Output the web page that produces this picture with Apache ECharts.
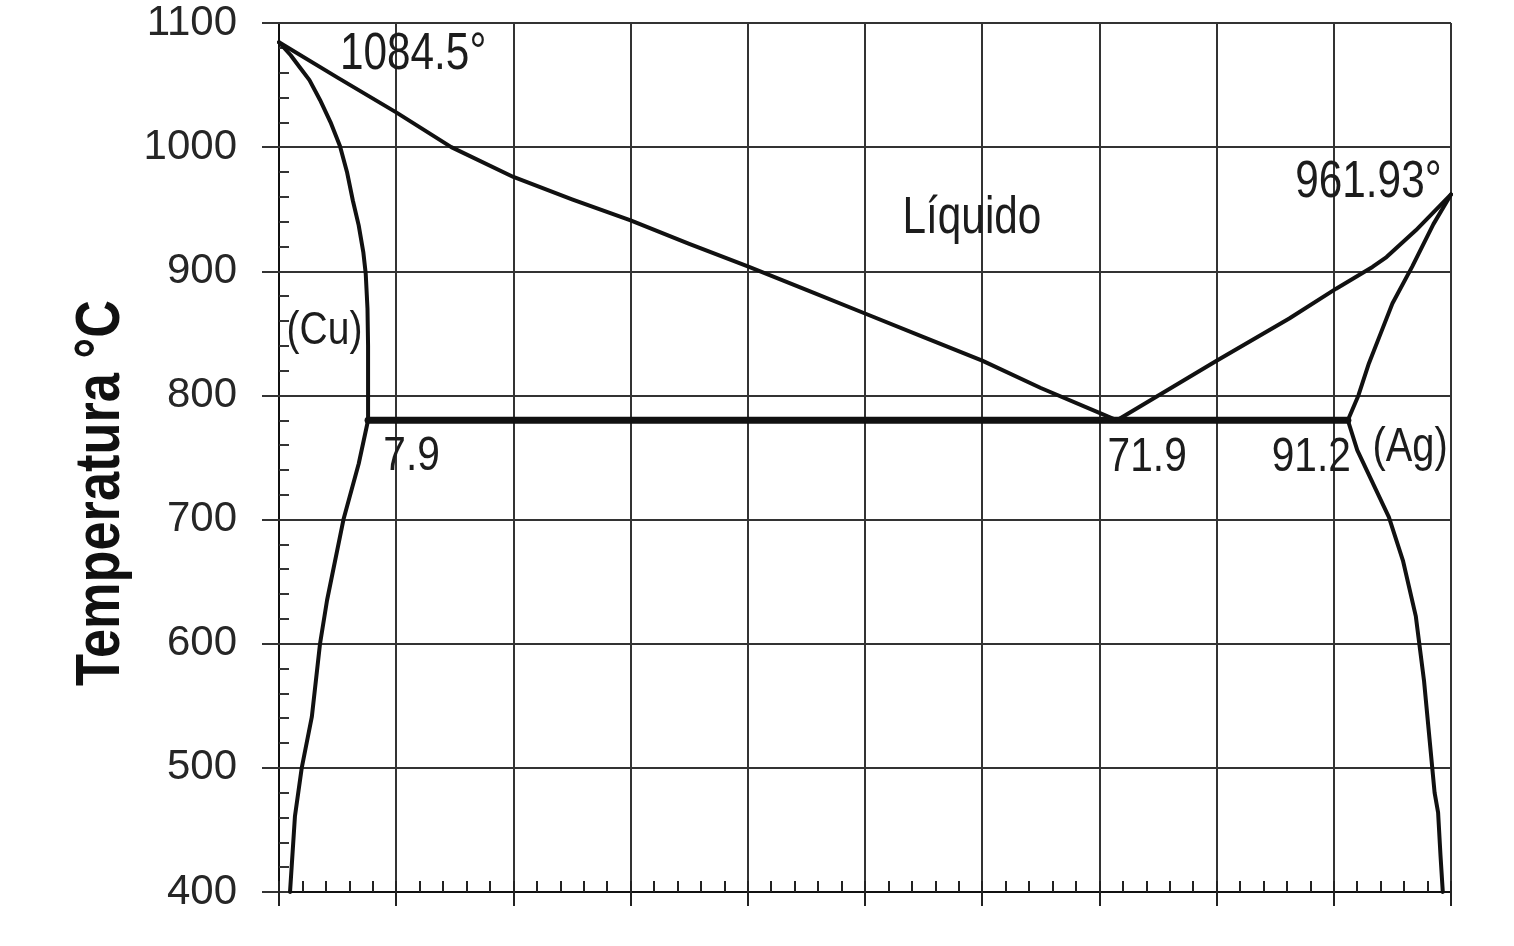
<!DOCTYPE html>
<html>
<head>
<meta charset="utf-8">
<script src="https://cdn.jsdelivr.net/npm/echarts@6/dist/echarts.min.js"></script>
<style>
html,body{margin:0;padding:0;background:#fff;}
#chart{width:1514px;height:946px;}
</style>
</head>
<body>
<div id="chart"></div>
<script>
// ---- data (x = composition, y = temperature °C) ----
var liquidusCu = [[0,1084.5],[5,1056],[10,1028],[14.7,1000],[20,976],[25,958],[30,941],[35,922],[40,904],[45,885],[50,866],[55,847],[60,828],[65,806],[70,786],[71.5,780]];
var solidusCu  = [[0,1084.5],[1.0,1074],[1.8,1064],[2.6,1054],[3.5,1038],[4.4,1020],[5.2,1001],[5.8,980],[6.3,957],[6.8,937],[7.2,915],[7.4,898],[7.55,870],[7.6,840],[7.6,780]];
var solvusCu   = [[7.6,780],[6.8,745],[5.5,700],[4.1,635],[3.5,600],[2.8,541],[1.94,500],[1.36,461],[0.94,400]];
var eutectic   = [[7.6,780],[91.2,780]];
var liquidusAg = [[71.5,780],[80,828],[86.2,862],[90.2,886],[93.3,903.5],[94.5,911.5],[97,933],[100,961.93]];
var solidusAg  = [[100,961.93],[98.5,938],[96.7,904],[95.0,874],[94.0,850],[93.0,826],[92.1,800],[91.2,780]];
var solvusAg   = [[91.2,780],[92.0,756],[93.4,728],[94.7,702],[95.9,667],[97.0,622],[97.7,570],[98.2,520],[98.6,480],[98.9,464],[99.1,430],[99.3,400]];

var yTicks = [400,500,600,700,800,900,1000,1100];

// annotations: text and anchor in data units
var annoText = ['1084.5°','Líquido','961.93°','(Cu)','7.9','71.9','91.2','(Ag)'];
var annoX    = [5.2, 53.2, 99.2, 0.65, 8.9, 70.7, 84.7, 93.3];
var annoY    = [1074, 942, 971, 852, 751, 750, 750, 758];

var yTitle = 'Temperatura °C';

var sans = "'Liberation Sans',Arial,Helvetica,sans-serif";
var chart = echarts.init(document.getElementById('chart'), null, {renderer:'canvas'});

function lineSeries(data, width){
  return {
    type:'line', data:data, showSymbol:false, symbol:'none', smooth:false,
    xAxisIndex:0, yAxisIndex:0, animation:false, silent:true,
    lineStyle:{color:'#111', width:width, join:'round', cap:'round'}, z:5
  };
}

var option = {
  backgroundColor:'#fff',
  animation:false,
  grid:{left:279, right:63, top:23, bottom:54, containLabel:false},
  xAxis:[
    {type:'value', min:0, max:100, interval:10, position:'bottom',
     axisLine:{show:true, onZero:false, lineStyle:{color:'#111', width:2}},
     axisTick:{show:true, inside:false, length:14, lineStyle:{color:'#222', width:2}},
     axisLabel:{show:false},
     splitLine:{show:true, lineStyle:{color:'#333', width:2}}},
    {type:'value', min:0, max:100, interval:2, position:'bottom', offset:0,
     axisLine:{show:false, onZero:false},
     axisTick:{show:true, inside:true, length:11, lineStyle:{color:'#222', width:2}},
     axisLabel:{show:false},
     splitLine:{show:false}}
  ],
  yAxis:[
    {type:'value', min:400, max:1100, interval:100, position:'left',
     axisLine:{show:true, onZero:false, lineStyle:{color:'#111', width:2}},
     axisTick:{show:true, inside:false, length:17, lineStyle:{color:'#333', width:2}},
     axisLabel:{show:true, margin:42, color:'#262626', fontSize:42, fontFamily:sans,
                formatter:function(v){ return yTicks.indexOf(v) >= 0 ? String(v) : ''; }},
     splitLine:{show:true, lineStyle:{color:'#333', width:2}}},
    {type:'value', min:400, max:1100, interval:20, position:'left', offset:0,
     axisLine:{show:false, onZero:false},
     axisTick:{show:true, inside:true, length:10, lineStyle:{color:'#333', width:2}},
     axisLabel:{show:false},
     splitLine:{show:false}}
  ],
  series:[
    lineSeries(liquidusCu, 4),
    lineSeries(solidusCu, 4),
    lineSeries(solvusCu, 4),
    lineSeries(eutectic, 7),
    lineSeries(liquidusAg, 4),
    lineSeries(solidusAg, 4),
    lineSeries(solvusAg, 4)
  ]
};
chart.setOption(option);

// annotation text placed at data anchors (condensed look via horizontal scale)
var annoSize = {'(Cu)':47, '(Ag)':48, '7.9':49, '71.9':49, '91.2':49};
var graphics = annoText.map(function(t, i){
  var p = chart.convertToPixel({xAxisIndex:0, yAxisIndex:0}, [annoX[i], annoY[i]]);
  return {
    type:'text', x:p[0], y:p[1], scaleX:0.83, scaleY:1, z:20, silent:true,
    style:{text:t, fontSize:annoSize[t] || 51, fontFamily:sans, fill:'#1c1c1c',
           align: t === '961.93°' ? 'right' : 'left', verticalAlign:'middle'}
  };
});
graphics.push({
  type:'text', x:102, y:493, rotation:Math.PI/2, scaleX:0.83, scaleY:1, z:20, silent:true,
  style:{text:yTitle, fontSize:63, fontWeight:'bold', fontFamily:sans,
         fill:'#111', align:'center', verticalAlign:'middle'}
});
chart.setOption({graphic:graphics});
</script>
</body>
</html>
